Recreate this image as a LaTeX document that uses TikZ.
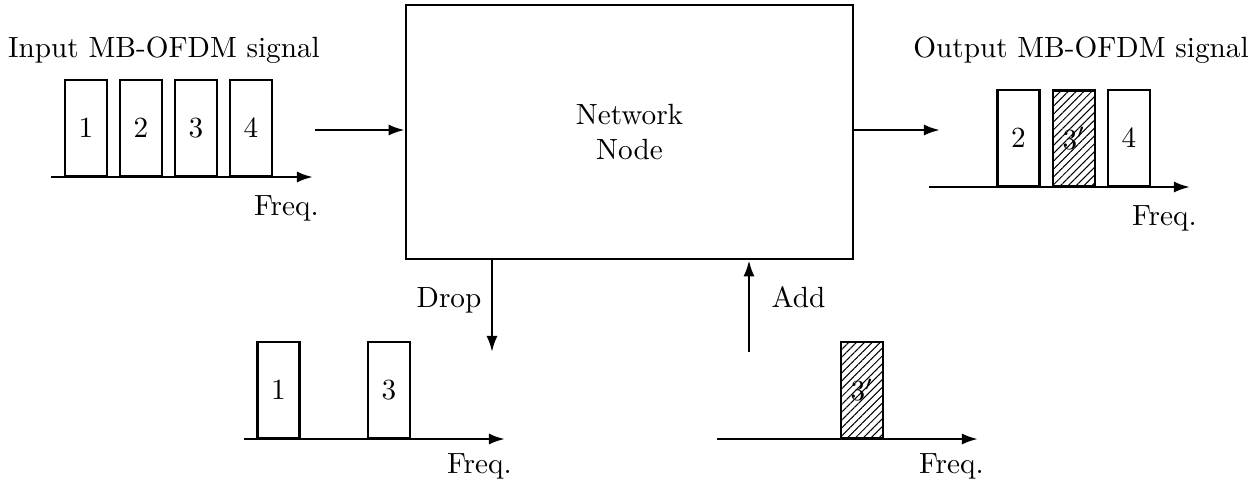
\documentclass[tikz,border=0pt]{standalone}
\usetikzlibrary{arrows.meta,patterns.meta}
\begin{document}
\begin{tikzpicture}[x=0.342pt,y=-0.342pt,
  line width=0.85pt,
  tip/.tip={Latex[length=5.5pt,width=3.8pt]},
  band/.style={draw, rectangle, minimum width=14.36pt, minimum height=32.8pt,
               inner sep=0pt, anchor=south},
  newband/.style={band, pattern={Lines[angle=45,distance=1.9pt,line width=0.35pt]}},
  axis/.style={-tip},
  flow/.style={-tip},
  txt/.style={inner sep=0pt, anchor=base}]
\useasboundingbox (0,0) rectangle (1249,484);

% central node
\node[draw, minimum width=152.9pt, minimum height=86.9pt, align=center]
  (nn) at (629.5,132) {Network\\Node};

% input spectrum
\coordinate (ia0) at (51,177);
\coordinate (ia1) at (313,177);
\draw[axis] (ia0) -- (ia1);
\node[band] (i1) at (86,177) {1};
\node[band] (i2) at (141,177) {2};
\node[band] (i3) at (196,177) {3};
\node[band] (i4) at (251,177) {4};
\node[txt] (ititle) at (164,57) {Input MB-OFDM signal};
\node[txt, anchor=base east] (ifreq) at (320,215) {Freq.};

% output spectrum
\coordinate (oa0) at (929,187);
\coordinate (oa1) at (1190,187);
\draw[axis] (oa0) -- (oa1);
\node[band] (o2) at (1018.5,187) {2};
\node[newband] (o3) at (1074,187) {$3'$};
\node[band] (o4) at (1129,187) {4};
\node[txt] (otitle) at (1081,57) {Output MB-OFDM signal};
\node[txt, anchor=base east] (ofreq) at (1198,225) {Freq.};

% dropped spectrum
\coordinate (da0) at (244,439);
\coordinate (da1) at (505,439);
\draw[axis] (da0) -- (da1);
\node[band] (d1) at (278.5,439) {1};
\node[band] (d3) at (389,439) {3};
\node[txt, anchor=base east] (dfreq) at (513,473) {Freq.};

% added spectrum
\coordinate (aa0) at (717,439);
\coordinate (aa1) at (978,439);
\draw[axis] (aa0) -- (aa1);
\node[newband] (a3) at (862,439) {$3'$};
\node[txt, anchor=base east] (afreq) at (985,473) {Freq.};

% signal flow
\coordinate (inS) at (315,130);
\coordinate (outE) at (940,130);
\coordinate (dropE) at (492,352);
\coordinate (addS) at (749,352);
\draw[flow] (inS) -- (inS -| nn.west);
\draw[flow] (outE -| nn.east) -- (outE);
\draw[flow] (dropE |- nn.south) -- (dropE);
\draw[flow] (addS) -- (addS |- nn.south);
\node[txt] (droplbl) at (449,307) {Drop};
\node[txt] (addlbl) at (798.5,307) {Add};
\end{tikzpicture}
\end{document}
